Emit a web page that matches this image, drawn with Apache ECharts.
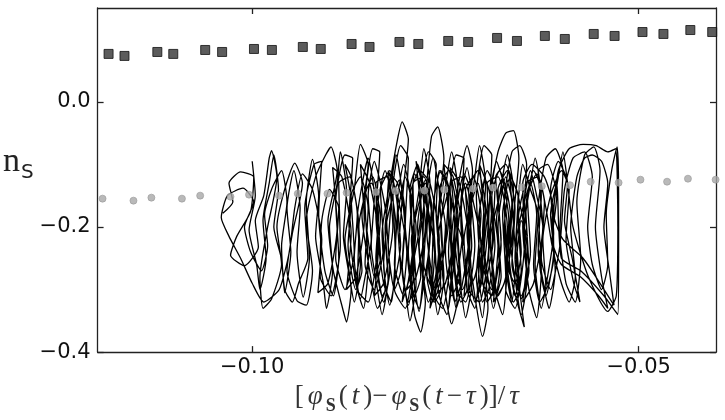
<!DOCTYPE html>
<html>
<head>
<meta charset="utf-8">
<script src="https://cdn.jsdelivr.net/npm/echarts@6/dist/echarts.min.js"></script>
<style>
    html, body { margin: 0; padding: 0; background: #fff; }
    #chart { width: 725px; height: 420px; }
</style>
</head>
<body>
<div id="chart"></div>
<script>
    // black squares (upper row)
    const squaresX = [-0.11858, -0.11652, -0.11227, -0.11021, -0.10608, -0.10389, -0.09977, -0.09745, -0.09345, -0.09113,
        -0.08714, -0.08482, -0.08095, -0.07851, -0.07464, -0.07206, -0.06832, -0.06575, -0.06214, -0.05956,
        -0.05582, -0.05312, -0.04951, -0.04680, -0.04332, -0.04049];
    const squaresY = [0.0766, 0.0734, 0.0797, 0.0766, 0.0829, 0.0797, 0.0845, 0.0829, 0.0877, 0.0845,
        0.0925, 0.0877, 0.0957, 0.0925, 0.0973, 0.0957, 0.1021, 0.0973, 0.1053, 0.1005,
        0.1085, 0.1053, 0.1116, 0.1085, 0.1148, 0.1116];

    // grey circles (lower row)
    const circlesX = [-0.11936, -0.11536, -0.11304, -0.10909, -0.10673, -0.10281, -0.10041, -0.09653, -0.09410,
        -0.09026, -0.08778, -0.08398, -0.08147, -0.07771, -0.07515, -0.07143, -0.06884, -0.06516, -0.06253,
        -0.05888, -0.05621, -0.05260, -0.04977, -0.04633, -0.04363, -0.04005];
    const circlesY = [-0.1547, -0.1579, -0.1531, -0.1547, -0.1499, -0.1515, -0.1483, -0.1499, -0.1467,
        -0.1467, -0.1451, -0.1443, -0.1427, -0.1419, -0.1404, -0.1388, -0.1372, -0.1364, -0.1348,
        -0.1332, -0.1276, -0.1292, -0.1244, -0.1276, -0.1228, -0.1244];

    // tangled trajectory, [x, y] in the order it was traced
    const trajectory = [
        [-0.1038,-0.178],[-0.1025,-0.160],[-0.1030,-0.130],[-0.1015,-0.112],[-0.0998,-0.120],[-0.1002,-0.175],[-0.1020,-0.215],[-0.1028,-0.245],[-0.1010,-0.262],[-0.0992,-0.232],
        [-0.0996,-0.190],[-0.0985,-0.150],[-0.0978,-0.090],[-0.0975,-0.078],[-0.0968,-0.120],[-0.0980,-0.200],[-0.0990,-0.280],[-0.0986,-0.330],[-0.0975,-0.315],[-0.0962,-0.260],
        [-0.0968,-0.200],[-0.0958,-0.140],[-0.0945,-0.098],[-0.0935,-0.130],[-0.0948,-0.210],[-0.0955,-0.270],[-0.0942,-0.318],[-0.0930,-0.325],[-0.0922,-0.270],[-0.0930,-0.190],
        [-0.0918,-0.120],[-0.0905,-0.085],[-0.0898,-0.072],[-0.0890,-0.110],[-0.0902,-0.190],[-0.0895,-0.270],[-0.0882,-0.335],[-0.0878,-0.352],[-0.0872,-0.300],[-0.0880,-0.220],
        [-0.0868,-0.140],[-0.0860,-0.068],[-0.0850,-0.100],[-0.0858,-0.180],[-0.0848,-0.270],[-0.0838,-0.330],
        [-0.0828,-0.300],[-0.0832,-0.210],[-0.0822,-0.130],[-0.0812,-0.060],[-0.0806,-0.032],[-0.0798,-0.060],[-0.0805,-0.150],[-0.0798,-0.250],[-0.0790,-0.340],[-0.0782,-0.368],
        [-0.0776,-0.320],[-0.0784,-0.230],[-0.0775,-0.140],[-0.0768,-0.055],[-0.0760,-0.040],[-0.0752,-0.090],[-0.0760,-0.190],[-0.0752,-0.290],[-0.0742,-0.355],[-0.0735,-0.320],
        [-0.0742,-0.220],[-0.0733,-0.130],[-0.0722,-0.070],[-0.0715,-0.110],[-0.0722,-0.210],[-0.0712,-0.310],[-0.0702,-0.375],[-0.0695,-0.330],[-0.0700,-0.240],[-0.0692,-0.150],
        [-0.0682,-0.080],[-0.0672,-0.050],[-0.0662,-0.046],[-0.0655,-0.090],[-0.0662,-0.190],[-0.0655,-0.290],[-0.0648,-0.360],
        [-0.0655,-0.330],[-0.0668,-0.260],[-0.0660,-0.170],[-0.0672,-0.100],[-0.0685,-0.120],[-0.0678,-0.220],[-0.0690,-0.310],[-0.0702,-0.290],[-0.0695,-0.200],[-0.0708,-0.110],
        [-0.0718,-0.130],[-0.0712,-0.230],[-0.0724,-0.320],[-0.0736,-0.300],[-0.0728,-0.210],[-0.0740,-0.120],[-0.0752,-0.100],[-0.0746,-0.190],[-0.0758,-0.280],[-0.0770,-0.330],
        [-0.0764,-0.240],[-0.0776,-0.150],[-0.0788,-0.095],[-0.0782,-0.180],[-0.0794,-0.270],[-0.0806,-0.320],[-0.0800,-0.240],[-0.0812,-0.150],[-0.0824,-0.110],[-0.0818,-0.200],
        [-0.0830,-0.290],[-0.0842,-0.310],[-0.0836,-0.220],[-0.0848,-0.130],[-0.0860,-0.100],[-0.0855,-0.190],[-0.0866,-0.280],[-0.0878,-0.300],[-0.0872,-0.210],[-0.0884,-0.120],
        [-0.0896,-0.105],[-0.0890,-0.200],[-0.0902,-0.290],[-0.0915,-0.305],[-0.0910,-0.220],[-0.0922,-0.140],[-0.0935,-0.115],[-0.0945,-0.170],[-0.0952,-0.240],
        [-0.0965,-0.300],[-0.0985,-0.320],[-0.1000,-0.290],[-0.1015,-0.250],[-0.1030,-0.215],[-0.1040,-0.185],[-0.1032,-0.150],[-0.1012,-0.138],[-0.0998,-0.160],[-0.1010,-0.200],
        [-0.1002,-0.240],[-0.0988,-0.270],[-0.0980,-0.230],[-0.0984,-0.180],[-0.0975,-0.140],[-0.0962,-0.110],[-0.0955,-0.160],[-0.0962,-0.230],[-0.0958,-0.300],[-0.0948,-0.320],
        [-0.0940,-0.290],[-0.0928,-0.250],[-0.0932,-0.170],[-0.0920,-0.100],[-0.0910,-0.095],[-0.0914,-0.180],[-0.0906,-0.270],[-0.0895,-0.310],[-0.0888,-0.250],[-0.0892,-0.160],
        [-0.0880,-0.085],[-0.0870,-0.090],[-0.0875,-0.190],[-0.0866,-0.290],[-0.0856,-0.330],[-0.0850,-0.260],[-0.0854,-0.160],[-0.0844,-0.075],[-0.0835,-0.080],[-0.0840,-0.180],
        [-0.0830,-0.290],[-0.0820,-0.320],[-0.0815,-0.240],[-0.0818,-0.140],[-0.0808,-0.070],[-0.0798,-0.090],[-0.0802,-0.200],[-0.0794,-0.300],[-0.0784,-0.330],[-0.0778,-0.250],
        [-0.0782,-0.150],[-0.0772,-0.080],[-0.0762,-0.100],[-0.0766,-0.200],[-0.0758,-0.310],[-0.0748,-0.340],[-0.0742,-0.260],[-0.0746,-0.160],[-0.0736,-0.085],[-0.0726,-0.090],
        [-0.0730,-0.190],[-0.0722,-0.300],[-0.0712,-0.330],[-0.0706,-0.250],[-0.0710,-0.150],[-0.0700,-0.070],[-0.0690,-0.085],[-0.0694,-0.190],[-0.0686,-0.300],[-0.0676,-0.340],
        [-0.0670,-0.260],[-0.0674,-0.160],[-0.0664,-0.080],[-0.0654,-0.070],[-0.0645,-0.100],[-0.0650,-0.200],[-0.0642,-0.300],[-0.0632,-0.345],[-0.0626,-0.270],[-0.0630,-0.170],
        [-0.0620,-0.090],[-0.0608,-0.075],[-0.0598,-0.110],[-0.0602,-0.210],[-0.0594,-0.290],[-0.0582,-0.320],[-0.0575,-0.250],[-0.0580,-0.160],[-0.0570,-0.085],[-0.0558,-0.072],
        [-0.0550,-0.110],[-0.0556,-0.200],[-0.0548,-0.280],[-0.0540,-0.330],
        [-0.0552,-0.310],[-0.0575,-0.280],[-0.0600,-0.260],[-0.0612,-0.220],[-0.0606,-0.150],[-0.0618,-0.100],[-0.0630,-0.110],[-0.0624,-0.200],[-0.0636,-0.290],[-0.0650,-0.320],
        [-0.0644,-0.240],[-0.0656,-0.150],[-0.0668,-0.110],[-0.0662,-0.200],[-0.0674,-0.290],[-0.0688,-0.320],[-0.0682,-0.230],[-0.0694,-0.140],[-0.0706,-0.100],[-0.0700,-0.190],
        [-0.0712,-0.280],[-0.0726,-0.310],[-0.0720,-0.220],[-0.0732,-0.130],[-0.0744,-0.105],[-0.0738,-0.200],[-0.0750,-0.290],[-0.0764,-0.310],[-0.0758,-0.220],[-0.0770,-0.130],
        [-0.0782,-0.110],[-0.0776,-0.200],[-0.0788,-0.280],[-0.0800,-0.300],
        [-0.0792,-0.230],[-0.0796,-0.140],[-0.0786,-0.100],[-0.0778,-0.160],[-0.0780,-0.260],[-0.0772,-0.320],[-0.0762,-0.270],[-0.0766,-0.170],[-0.0756,-0.110],[-0.0746,-0.140],
        [-0.0750,-0.240],[-0.0742,-0.310],[-0.0732,-0.280],[-0.0736,-0.180],[-0.0726,-0.115],[-0.0716,-0.150],[-0.0720,-0.250],[-0.0712,-0.320],[-0.0702,-0.280],[-0.0706,-0.180],
        [-0.0696,-0.110],[-0.0686,-0.140],[-0.0690,-0.240],[-0.0682,-0.310],[-0.0672,-0.280],[-0.0676,-0.180],[-0.0666,-0.120],[-0.0656,-0.150],[-0.0660,-0.250],[-0.0652,-0.315],
        [-0.0642,-0.270],[-0.0646,-0.170],[-0.0636,-0.110],[-0.0626,-0.140],[-0.0630,-0.240],[-0.0620,-0.300],[-0.0610,-0.250],[-0.0612,-0.160],
        [-0.0622,-0.120],[-0.0638,-0.100],[-0.0650,-0.130],[-0.0648,-0.230],[-0.0660,-0.330],[-0.0672,-0.300],[-0.0670,-0.200],[-0.0682,-0.120],[-0.0696,-0.130],[-0.0694,-0.230],
        [-0.0706,-0.320],[-0.0720,-0.300],[-0.0718,-0.200],[-0.0730,-0.120],[-0.0744,-0.130],[-0.0742,-0.230],[-0.0754,-0.330],[-0.0768,-0.300],[-0.0766,-0.200],[-0.0778,-0.120],
        [-0.0792,-0.130],[-0.0790,-0.230],[-0.0802,-0.330],[-0.0816,-0.300],[-0.0814,-0.200],[-0.0826,-0.120],[-0.0840,-0.130],[-0.0838,-0.230],[-0.0850,-0.320],[-0.0864,-0.300],
        [-0.0862,-0.200],[-0.0874,-0.120],[-0.0888,-0.130],[-0.0886,-0.230],[-0.0898,-0.310],[-0.0912,-0.280],[-0.0910,-0.190],
        [-0.0900,-0.140],[-0.0888,-0.170],[-0.0892,-0.250],[-0.0880,-0.300],[-0.0868,-0.240],[-0.0872,-0.150],[-0.0860,-0.120],[-0.0850,-0.170],[-0.0854,-0.260],[-0.0842,-0.300],
        [-0.0830,-0.230],[-0.0834,-0.140],[-0.0822,-0.110],[-0.0812,-0.170],[-0.0816,-0.260],[-0.0804,-0.310],[-0.0792,-0.240],[-0.0796,-0.150],[-0.0784,-0.110],[-0.0774,-0.170],
        [-0.0778,-0.260],[-0.0766,-0.300],[-0.0754,-0.230],[-0.0758,-0.140],[-0.0746,-0.110],[-0.0736,-0.170],[-0.0740,-0.260],[-0.0728,-0.300],[-0.0716,-0.230],[-0.0720,-0.140],
        [-0.0708,-0.110],[-0.0698,-0.170],[-0.0702,-0.260],[-0.0690,-0.300],[-0.0678,-0.230],[-0.0682,-0.140],[-0.0670,-0.110],[-0.0660,-0.170],[-0.0664,-0.260],[-0.0652,-0.310],
        [-0.0640,-0.240],[-0.0644,-0.150],[-0.0632,-0.115],[-0.0622,-0.160],[-0.0626,-0.250],[-0.0614,-0.300],[-0.0602,-0.230],[-0.0596,-0.140],[-0.0585,-0.090],[-0.0570,-0.080],
        [-0.0560,-0.120],[-0.0566,-0.200],[-0.0560,-0.260],[-0.0548,-0.300],[-0.0540,-0.260],[-0.0542,-0.180],[-0.0535,-0.110],[-0.0528,-0.072],[-0.0526,-0.150],[-0.0526,-0.250],
        [-0.0527,-0.340],[-0.0545,-0.310],[-0.0575,-0.270],[-0.0600,-0.250],
        [-0.0606,-0.130],[-0.0614,-0.180],[-0.0610,-0.240],[-0.0620,-0.310],[-0.0628,-0.260],[-0.0624,-0.200],[-0.0632,-0.150],[-0.0640,-0.110],[-0.0648,-0.160],[-0.0644,-0.215],
        [-0.0652,-0.190],[-0.0658,-0.250],[-0.0664,-0.320],[-0.0672,-0.260],[-0.0668,-0.190],[-0.0676,-0.125],[-0.0684,-0.095],[-0.0692,-0.150],[-0.0688,-0.220],[-0.0696,-0.280],
        [-0.0702,-0.345],[-0.0710,-0.280],[-0.0706,-0.210],[-0.0714,-0.160],[-0.0722,-0.105],[-0.0730,-0.160],[-0.0726,-0.230],[-0.0734,-0.200],[-0.0740,-0.270],[-0.0746,-0.330],
        [-0.0754,-0.270],[-0.0750,-0.200],[-0.0758,-0.140],[-0.0766,-0.090],[-0.0774,-0.150],[-0.0770,-0.220],[-0.0778,-0.290],[-0.0784,-0.335],[-0.0792,-0.270],[-0.0788,-0.200],
        [-0.0796,-0.140],[-0.0804,-0.100],[-0.0812,-0.160],[-0.0808,-0.230],[-0.0816,-0.290],[-0.0822,-0.325],[-0.0830,-0.260],[-0.0826,-0.190],[-0.0834,-0.130],[-0.0842,-0.095],
        [-0.0850,-0.150],[-0.0846,-0.220],[-0.0854,-0.280],[-0.0860,-0.315],[-0.0868,-0.250],[-0.0864,-0.180],[-0.0872,-0.120],[-0.0880,-0.100],
        [-0.0872,-0.160],[-0.0876,-0.230],[-0.0866,-0.300],[-0.0858,-0.270],[-0.0862,-0.200],[-0.0852,-0.140],[-0.0844,-0.120],[-0.0836,-0.170],[-0.0840,-0.250],[-0.0832,-0.310],
        [-0.0824,-0.290],[-0.0828,-0.210],[-0.0818,-0.150],[-0.0810,-0.125],[-0.0802,-0.180],[-0.0806,-0.260],[-0.0798,-0.320],[-0.0790,-0.300],[-0.0794,-0.220],[-0.0784,-0.160],
        [-0.0776,-0.130],[-0.0768,-0.180],[-0.0772,-0.260],[-0.0764,-0.320],[-0.0756,-0.300],[-0.0760,-0.220],[-0.0750,-0.160],[-0.0742,-0.130],[-0.0734,-0.180],[-0.0738,-0.260],
        [-0.0730,-0.320],[-0.0722,-0.300],[-0.0726,-0.220],[-0.0716,-0.160],[-0.0708,-0.130],[-0.0700,-0.180],[-0.0704,-0.260],[-0.0696,-0.320],[-0.0688,-0.300],[-0.0692,-0.220],
        [-0.0682,-0.160],[-0.0674,-0.130],[-0.0666,-0.180],[-0.0670,-0.260],[-0.0662,-0.320],[-0.0654,-0.300],[-0.0658,-0.220],[-0.0648,-0.160],[-0.0640,-0.130],[-0.0632,-0.180],
        [-0.0636,-0.260],[-0.0628,-0.320],[-0.0620,-0.300],[-0.0624,-0.220],[-0.0614,-0.150],[-0.0600,-0.110],[-0.0590,-0.140],[-0.0594,-0.220],[-0.0584,-0.290],[-0.0576,-0.320],
        [-0.0586,-0.250],[-0.0596,-0.190],[-0.0592,-0.130],[-0.0604,-0.095],[-0.0614,-0.140],[-0.0610,-0.210],[-0.0618,-0.280],[-0.0626,-0.330],[-0.0634,-0.260],[-0.0630,-0.180],
        [-0.0640,-0.140],[-0.0650,-0.100],[-0.0656,-0.170],[-0.0652,-0.240],[-0.0660,-0.290],[-0.0668,-0.270],[-0.0674,-0.200],[-0.0670,-0.150],[-0.0680,-0.110],[-0.0690,-0.150],
        [-0.0686,-0.230],[-0.0694,-0.300],[-0.0702,-0.320],[-0.0708,-0.250],[-0.0704,-0.180],[-0.0714,-0.120],[-0.0724,-0.140],[-0.0720,-0.220],[-0.0728,-0.290],[-0.0736,-0.330],
        [-0.0742,-0.270],[-0.0738,-0.190],[-0.0748,-0.130],[-0.0758,-0.110],[-0.0762,-0.180],[-0.0758,-0.250],[-0.0766,-0.320],[-0.0774,-0.280],[-0.0770,-0.200],[-0.0780,-0.140],
        [-0.0790,-0.115],[-0.0794,-0.190],[-0.0790,-0.260],[-0.0798,-0.325],[-0.0806,-0.270],[-0.0802,-0.190],[-0.0812,-0.130],[-0.0822,-0.115],[-0.0826,-0.190],[-0.0822,-0.270],
        [-0.0830,-0.320],[-0.0838,-0.260],[-0.0834,-0.180],[-0.0846,-0.130],[-0.0856,-0.150],
        [-0.0850,-0.220],[-0.0842,-0.280],[-0.0834,-0.250],[-0.0838,-0.170],[-0.0828,-0.110],[-0.0820,-0.150],[-0.0824,-0.230],[-0.0816,-0.300],[-0.0808,-0.270],[-0.0812,-0.190],
        [-0.0802,-0.120],[-0.0794,-0.160],[-0.0798,-0.240],[-0.0790,-0.310],[-0.0782,-0.280],[-0.0786,-0.200],[-0.0776,-0.125],[-0.0768,-0.165],[-0.0772,-0.245],[-0.0764,-0.315],
        [-0.0756,-0.280],[-0.0760,-0.200],[-0.0750,-0.120],[-0.0742,-0.160],[-0.0746,-0.240],[-0.0738,-0.320],[-0.0730,-0.290],[-0.0734,-0.210],[-0.0724,-0.130],[-0.0716,-0.170],
        [-0.0720,-0.250],[-0.0712,-0.320],[-0.0704,-0.280],[-0.0708,-0.200],[-0.0698,-0.125],[-0.0690,-0.165],[-0.0694,-0.245],[-0.0686,-0.315],[-0.0678,-0.280],[-0.0682,-0.200],
        [-0.0672,-0.120],[-0.0664,-0.160],[-0.0668,-0.240],[-0.0660,-0.310],[-0.0652,-0.270],[-0.0656,-0.190],[-0.0646,-0.130],[-0.0630,-0.120],[-0.0620,-0.170],
        [-0.0612,-0.230],[-0.0600,-0.290],[-0.0590,-0.320],[-0.0582,-0.280],[-0.0588,-0.200],[-0.0580,-0.120],[-0.0570,-0.090],[-0.0560,-0.085],[-0.0548,-0.095],[-0.0540,-0.130],
        [-0.0545,-0.200],[-0.0538,-0.270],[-0.0532,-0.325],[-0.0550,-0.290],[-0.0572,-0.250],[-0.0598,-0.220],[-0.0610,-0.180],[-0.0604,-0.110],[-0.0590,-0.075],[-0.0572,-0.068],
        [-0.0555,-0.070],[-0.0540,-0.080],[-0.0530,-0.075],[-0.0527,-0.200],[-0.0529,-0.310],[-0.0540,-0.335],[-0.0565,-0.280],[-0.0585,-0.200],[-0.0592,-0.130],
        [-0.0598,-0.080],[-0.0604,-0.120],[-0.0612,-0.190],[-0.0608,-0.270],[-0.0616,-0.330],[-0.0622,-0.300],[-0.0630,-0.230],[-0.0626,-0.150],[-0.0634,-0.090],[-0.0640,-0.130],
        [-0.0648,-0.200],[-0.0644,-0.280],[-0.0652,-0.340],[-0.0658,-0.300],[-0.0666,-0.220],[-0.0662,-0.140],[-0.0670,-0.085],[-0.0676,-0.120],[-0.0684,-0.190],[-0.0680,-0.270],
        [-0.0688,-0.330],[-0.0694,-0.290],[-0.0702,-0.210],[-0.0698,-0.130],[-0.0706,-0.070],[-0.0712,-0.120],[-0.0720,-0.200],[-0.0716,-0.290],[-0.0724,-0.345],[-0.0730,-0.300],
        [-0.0738,-0.220],[-0.0734,-0.140],[-0.0742,-0.080],[-0.0748,-0.120],[-0.0756,-0.200],[-0.0752,-0.280],[-0.0760,-0.340],[-0.0766,-0.290],[-0.0774,-0.210],[-0.0770,-0.130],
        [-0.0778,-0.075],[-0.0784,-0.140],[-0.0792,-0.210],[-0.0788,-0.290],[-0.0796,-0.350],[-0.0802,-0.300],[-0.0810,-0.230],[-0.0806,-0.150],[-0.0814,-0.085],[-0.0820,-0.130],
        [-0.0828,-0.200],[-0.0824,-0.280],[-0.0832,-0.340],[-0.0838,-0.300],[-0.0846,-0.230],[-0.0842,-0.150],[-0.0850,-0.090],[-0.0856,-0.120],[-0.0864,-0.185],[-0.0860,-0.260],
        [-0.0868,-0.320],[-0.0874,-0.280],[-0.0882,-0.215],[-0.0878,-0.140],[-0.0886,-0.080],[-0.0890,-0.130],[-0.0900,-0.200],[-0.0896,-0.270],[-0.0904,-0.330],[-0.0908,-0.290],
        [-0.0918,-0.215],[-0.0914,-0.150],[-0.0922,-0.092],[-0.0930,-0.160],[-0.0926,-0.250],[-0.0934,-0.312],[-0.0942,-0.240],[-0.0938,-0.170],[-0.0946,-0.110],[-0.0955,-0.170],
        [-0.0950,-0.240],[-0.0958,-0.305],[-0.0962,-0.252],[-0.0972,-0.200],[-0.0966,-0.140],[-0.0972,-0.085],[-0.0978,-0.130],[-0.0986,-0.190],[-0.0982,-0.250],[-0.0990,-0.300],
        [-0.0994,-0.262],[-0.1004,-0.205],[-0.0996,-0.150],[-0.1000,-0.095]
    ];

    // tick labels
    const xTicks = [-0.10, -0.05];
    const yTicks = [-0.4, -0.2, 0.0];

    const zip = (xs, ys) => xs.map((x, i) => [x, ys[i]]);
    const minus = s => s.replace('-', '\u2212');

    const chart = echarts.init(document.getElementById('chart'));

    const axisLine = { show: true, onZero: false, lineStyle: { color: '#222', width: 1.3 } };
    const tick = { show: true, inside: true, length: 6, lineStyle: { color: '#222', width: 1.3 } };

    chart.setOption({
        animation: false,
        backgroundColor: '#ffffff',
        grid: { left: 94, right: 9, top: 8, bottom: 67 },
        xAxis: [{
            type: 'value',
            min: -0.12,
            max: -0.04,
            position: 'bottom',
            axisLine: axisLine,
            axisTick: Object.assign({ customValues: xTicks }, tick),
            splitLine: { show: false },
            axisLabel: {
                customValues: xTicks,
                margin: 5,
                color: '#111',
                fontFamily: 'DejaVu Sans',
                fontSize: 21,
                formatter: v => minus(v.toFixed(2))
            },
            name: '{t|[}{i|φ}{b|S}{t|(}{i|t}{t|)−}{i|φ}{b|S}{t|(}{i|t}{t|−}{i|τ}{t|)]/}{i|τ}',
            nameLocation: 'middle',
            nameGap: 28,
            nameTextStyle: {
                color: '#333',
                rich: {
                    t: { fontFamily: 'Liberation Serif', fontSize: 27, lineHeight: 30, verticalAlign: 'top', padding: [0, 2, 0, 2] },
                    i: { fontFamily: 'Liberation Serif', fontStyle: 'italic', fontSize: 27, lineHeight: 30, verticalAlign: 'top', padding: [0, 2, 0, 2] },
                    b: { fontFamily: 'Liberation Serif', fontWeight: 'bold', fontSize: 18, lineHeight: 18, verticalAlign: 'top', padding: [14, 1, 0, 1] }
                }
            }
        }, {
            type: 'value',
            min: -0.12,
            max: -0.04,
            position: 'top',
            axisLine: axisLine,
            axisTick: Object.assign({ customValues: xTicks }, tick),
            splitLine: { show: false },
            axisLabel: { show: false }
        }],
        yAxis: [{
            type: 'value',
            min: -0.4,
            max: 0.15,
            position: 'left',
            axisLine: axisLine,
            axisTick: Object.assign({ customValues: yTicks }, tick),
            splitLine: { show: false },
            axisLabel: {
                customValues: yTicks,
                margin: 7,
                color: '#111',
                fontFamily: 'DejaVu Sans',
                fontSize: 21,
                formatter: v => minus(v.toFixed(1))
            },
            name: '{n|n}{s|S}',
            nameLocation: 'middle',
            nameRotate: 0,
            nameGap: 49,
            nameTextStyle: {
                color: '#222',
                padding: [0, 0, 36, 0],
                rich: {
                    n: { fontFamily: 'Liberation Serif', fontSize: 34, lineHeight: 34, verticalAlign: 'top' },
                    s: { fontFamily: 'DejaVu Sans', fontSize: 20, lineHeight: 20, verticalAlign: 'top', padding: [18, 0, 0, 1] }
                }
            }
        }, {
            type: 'value',
            min: -0.4,
            max: 0.15,
            position: 'right',
            axisLine: axisLine,
            axisTick: Object.assign({ customValues: yTicks }, tick),
            splitLine: { show: false },
            axisLabel: { show: false }
        }],
        series: [{
            name: 'trajectory',
            type: 'line',
            data: trajectory,
            showSymbol: false,
            smooth: 0.2,
            lineStyle: { color: '#000', width: 1.3 },
            z: 2
        }, {
            name: 'circles',
            type: 'scatter',
            data: zip(circlesX, circlesY),
            symbol: 'circle',
            symbolSize: 7,
            itemStyle: { color: '#a8a8a8', borderColor: '#999', borderWidth: 0.8 },
            z: 3
        }, {
            name: 'squares',
            type: 'scatter',
            data: zip(squaresX, squaresY),
            symbol: 'rect',
            symbolSize: 9,
            itemStyle: { color: '#333', borderColor: '#111', borderWidth: 1 },
            z: 4
        }]
    });
</script>
</body>
</html>
